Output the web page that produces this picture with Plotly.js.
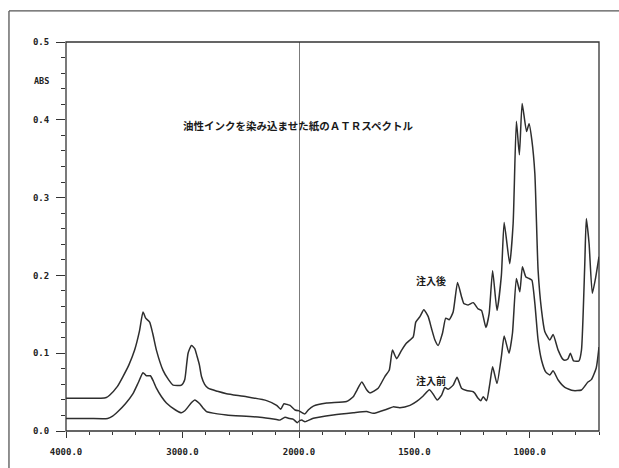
<!DOCTYPE html>
<html>
<head>
<meta charset="utf-8">
<script src="https://cdn.plot.ly/plotly-3.0.1.min.js"></script>
<style>
  html, body { margin: 0; padding: 0; background: #fff; }
  #chart { width: 619px; height: 468px; }
</style>
</head>
<body>
<div id="chart"></div>
<script>
// ---- data ----
const chartTitle = "油性インクを染み込ませた紙のＡＴＲスペクトル";
const seriesNames = ["注入後", "注入前"];

const wnAfter = [4000, 3800, 3700, 3654, 3626, 3560, 3511, 3460, 3411, 3370, 3339, 3316, 3282, 3255, 3224, 3167, 3120, 3081, 3009, 2981, 2965, 2952, 2923, 2895, 2875, 2855, 2837, 2810, 2780, 2700, 2622, 2450, 2278, 2192, 2157, 2129, 2100, 2077, 2034, 2000,
  1974, 1960, 1938, 1880, 1794, 1765, 1748, 1728, 1707, 1693, 1657, 1628, 1609, 1595, 1577, 1555, 1534, 1505, 1494, 1476, 1459, 1440, 1426, 1411, 1397, 1378, 1364, 1349, 1332, 1313, 1296, 1286, 1267, 1245, 1224, 1209, 1190, 1176, 1161, 1142, 1123, 1111, 1087, 1072, 1058, 1045, 1033, 1014, 1003, 991, 978, 964, 949, 935, 913, 899, 877, 856, 848, 834, 824, 810, 787, 776, 762, 755, 743, 729, 714, 700];
const absAfter = [0.042, 0.042, 0.042, 0.043, 0.046, 0.057, 0.070, 0.085, 0.104, 0.128, 0.153, 0.145, 0.140, 0.125, 0.104, 0.078, 0.066, 0.059, 0.059, 0.066, 0.085, 0.100, 0.110, 0.106, 0.096, 0.085, 0.070, 0.060, 0.055, 0.051, 0.048, 0.044, 0.039, 0.033, 0.028, 0.035, 0.034, 0.033, 0.027, 0.026,
  0.022, 0.027, 0.032, 0.036, 0.038, 0.044, 0.053, 0.063, 0.053, 0.049, 0.055, 0.070, 0.078, 0.104, 0.093, 0.104, 0.113, 0.121, 0.140, 0.147, 0.156, 0.147, 0.132, 0.117, 0.110, 0.126, 0.145, 0.143, 0.153, 0.191, 0.173, 0.164, 0.162, 0.165, 0.157, 0.155, 0.133, 0.151, 0.206, 0.155, 0.200, 0.268, 0.215, 0.267, 0.398, 0.355, 0.421, 0.385, 0.395, 0.374, 0.331, 0.207, 0.155, 0.128, 0.117, 0.124, 0.104, 0.092, 0.091, 0.093, 0.100, 0.090, 0.090, 0.104, 0.211, 0.273, 0.241, 0.177, 0.198, 0.224];

const wnBefore = [4000, 3800, 3643, 3600, 3554, 3490, 3425, 3380, 3339, 3310, 3276, 3250, 3224, 3180, 3138, 3060, 3009, 2980, 2952, 2920, 2895, 2852, 2820, 2794, 2700, 2622, 2335, 2206, 2163, 2120, 2080, 2048, 2015, 2000,
  1988, 1974, 1938, 1852, 1765, 1707, 1678, 1620, 1592, 1563, 1519, 1490, 1462, 1435, 1419, 1401, 1382, 1368, 1354, 1332, 1315, 1296, 1274, 1245, 1238, 1224, 1212, 1202, 1187, 1173, 1161, 1142, 1123, 1111, 1090, 1075, 1058, 1043, 1032, 1017, 1003, 991, 978, 964, 949, 931, 913, 899, 877, 848, 812, 776, 748, 733, 712, 700];
const absBefore = [0.016, 0.016, 0.016, 0.019, 0.025, 0.035, 0.048, 0.062, 0.075, 0.071, 0.071, 0.064, 0.055, 0.044, 0.036, 0.027, 0.0235, 0.026, 0.031, 0.037, 0.040, 0.035, 0.029, 0.025, 0.022, 0.0205, 0.0176, 0.015, 0.014, 0.0176, 0.016, 0.015, 0.0107, 0.013,
  0.014, 0.012, 0.0163, 0.0206, 0.0235, 0.025, 0.0227, 0.028, 0.031, 0.030, 0.033, 0.038, 0.045, 0.053, 0.0476, 0.040, 0.046, 0.056, 0.0536, 0.059, 0.069, 0.055, 0.052, 0.0505, 0.0485, 0.042, 0.039, 0.044, 0.039, 0.061, 0.0826, 0.061, 0.0955, 0.122, 0.100, 0.1256, 0.196, 0.179, 0.211, 0.198, 0.196, 0.194, 0.164, 0.117, 0.091, 0.076, 0.072, 0.0775, 0.0655, 0.056, 0.052, 0.0527, 0.063, 0.066, 0.081, 0.108];

const xLeftTickVals = [4000, 3000, 2000];
const xLeftTickText = ["4000.0", "3000.0", "2000.0"];
const xRightTickVals = [1500, 1000];
const xRightTickText = ["1500.0", "1000.0"];
const yTickVals = [0, 0.1, 0.2, 0.3, 0.4, 0.5];
const yTickText = ["0.0", "0.1", "0.2", "0.3", "0.4", "0.5"];

// ---- split each spectrum at 2000 cm-1 (scale change) ----
function split(wn, ab) {
  const L = {x: [], y: []}, R = {x: [], y: []};
  wn.forEach((w, i) => {
    if (w >= 2000) { L.x.push(w); L.y.push(ab[i]); }
    if (w <= 2000) { R.x.push(w); R.y.push(ab[i]); }
  });
  return [L, R];
}
const [aL, aR] = split(wnAfter, absAfter);
const [bL, bR] = split(wnBefore, absBefore);

const lineStyle = {color: '#2e2e2e', width: 1.5, shape: 'spline', smoothing: 0.5};
const traces = [
  {x: aL.x, y: aL.y, xaxis: 'x', yaxis: 'y', mode: 'lines', line: lineStyle, name: seriesNames[0], showlegend: false},
  {x: aR.x, y: aR.y, xaxis: 'x2', yaxis: 'y', mode: 'lines', line: lineStyle, name: seriesNames[0], showlegend: false},
  {x: bL.x, y: bL.y, xaxis: 'x', yaxis: 'y', mode: 'lines', line: lineStyle, name: seriesNames[1], showlegend: false},
  {x: bR.x, y: bR.y, xaxis: 'x2', yaxis: 'y', mode: 'lines', line: lineStyle, name: seriesNames[1], showlegend: false}
];

const split2000 = (299 - 66) / 533;
const tickFont = {family: 'DejaVu Sans Mono', size: 9, color: '#222', weight: 'bold'};
const frameColor = '#333';

const layout = {
  width: 619, height: 468,
  margin: {l: 66, r: 20, t: 42, b: 37, pad: 0},
  paper_bgcolor: '#fff', plot_bgcolor: '#fff',
  showlegend: false,
  xaxis: {
    domain: [0, split2000], range: [4000, 2000], anchor: 'y',
    tickmode: 'array', tickvals: xLeftTickVals, ticktext: xLeftTickText,
    ticks: 'outside', ticklen: 6, tickcolor: frameColor, tickwidth: 1,
    minor: {dtick: 200, tick0: 0, ticks: 'outside', ticklen: 3, tickcolor: frameColor, showgrid: false},
    showgrid: false, zeroline: false, showline: false,
    tickfont: tickFont, ticklabelstandoff: 6
  },
  xaxis2: {
    domain: [split2000, 1], range: [2000, 700], anchor: 'y',
    tickmode: 'array', tickvals: xRightTickVals, ticktext: xRightTickText,
    ticks: 'outside', ticklen: 6, tickcolor: frameColor, tickwidth: 1,
    minor: {dtick: 100, tick0: 0, ticks: 'outside', ticklen: 3, tickcolor: frameColor, showgrid: false},
    showgrid: false, zeroline: false, showline: false,
    tickfont: tickFont, ticklabelstandoff: 6
  },
  yaxis: {
    range: [0, 0.5],
    tickmode: 'array', tickvals: yTickVals, ticktext: yTickText,
    ticks: 'outside', ticklen: 9, tickcolor: frameColor, tickwidth: 1,
    minor: {dtick: 0.02, tick0: 0, ticks: 'outside', ticklen: 4, tickcolor: frameColor, showgrid: false},
    showgrid: false, zeroline: false, showline: false,
    tickfont: tickFont, ticklabelstandoff: 5
  },
  shapes: [
    // plot frame
    {type: 'rect', xref: 'paper', yref: 'paper', x0: 0, x1: 1, y0: 0, y1: 1, line: {color: frameColor, width: 1.3}},
    // divider at 2000 cm-1
    {type: 'line', xref: 'x2', yref: 'paper', x0: 2000, x1: 2000, y0: 0, y1: 1, line: {color: frameColor, width: 1.3}},
    // outer page frame
    {type: 'line', xref: 'paper', yref: 'paper', x0: -0.107, x1: 1.05, y0: 1.08, y1: 1.08, line: {color: '#555', width: 1.3}},
    {type: 'line', xref: 'paper', yref: 'paper', x0: -0.107, x1: -0.107, y0: 1.08, y1: -0.12, line: {color: '#555', width: 1.3}}
  ],
  annotations: [
    {text: 'ABS', xref: 'paper', yref: 'y', x: -0.028, y: 0.45, xanchor: 'right', yanchor: 'middle', showarrow: false,
     font: {family: 'DejaVu Sans Mono', size: 8.5, color: '#222', weight: 'bold'}},
    {text: chartTitle, xref: 'paper', yref: 'y', x: (297.5 - 66) / 533, y: 0.393, xanchor: 'center', yanchor: 'middle', showarrow: false,
     font: {family: 'Noto Sans CJK JP', size: 10.5, color: '#1a1a1a', weight: 'bold'}},
    {text: seriesNames[0], xref: 'x2', yref: 'y', x: 1429, y: 0.194, xanchor: 'center', yanchor: 'middle', showarrow: false,
     font: {family: 'Noto Sans CJK JP', size: 10, color: '#1a1a1a', weight: 'bold'}},
    {text: seriesNames[1], xref: 'x2', yref: 'y', x: 1429, y: 0.0645, xanchor: 'center', yanchor: 'middle', showarrow: false,
     font: {family: 'Noto Sans CJK JP', size: 10, color: '#1a1a1a', weight: 'bold'}}
  ]
};

Plotly.newPlot('chart', traces, layout, {staticPlot: true, displayModeBar: false});
</script>
</body>
</html>
